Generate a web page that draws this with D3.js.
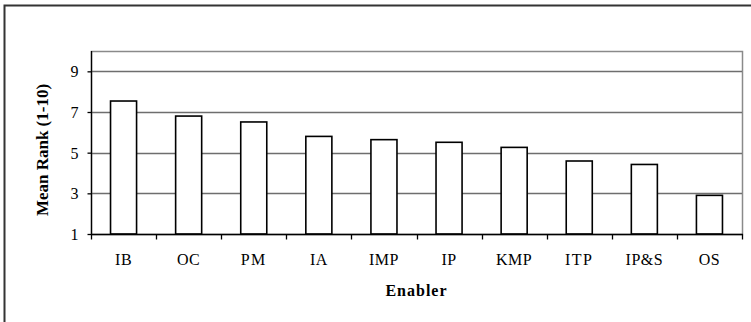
<!DOCTYPE html>
<html>
<head>
<meta charset="utf-8">
<script src="https://cdn.jsdelivr.net/npm/d3@7/dist/d3.min.js"></script>
<style>
  html, body { margin: 0; padding: 0; background: #fff; }
  svg { display: block; }
  text { font-family: "Liberation Serif", "Times New Roman", serif; fill: #000; }
</style>
</head>
<body>
<script>
const categories = ["IB", "OC", "PM", "IA", "IMP", "IP", "KMP", "ITP", "IP&S", "OS"];
const meanRank = [7.54, 6.80, 6.51, 5.80, 5.64, 5.51, 5.26, 4.59, 4.42, 2.90];
const yTicks = [1, 3, 5, 7, 9];
const yDomain = [1, 10];

const W = 751, H = 322;
const plot = { left: 91, top: 51, right: 742, bottom: 234 };

const svg = d3.select("body").append("svg").attr("width", W).attr("height", H);

// outer frame (extends beyond right/bottom edges)
svg.append("path")
  .attr("d", `M4.5,${H + 5} V5.5 H${W + 5}`)
  .attr("fill", "none").attr("stroke", "#333").attr("stroke-width", 2);

const x = d3.scaleBand().domain(categories).range([plot.left, plot.right]).paddingInner(0).paddingOuter(0);
const y = d3.scaleLinear().domain(yDomain).range([plot.bottom, plot.top]);

// plot area border (gray)
svg.append("rect")
  .attr("x", plot.left + 0.5).attr("y", plot.top + 0.5)
  .attr("width", plot.right - plot.left).attr("height", plot.bottom - plot.top)
  .attr("fill", "none").attr("stroke", "#8a8a8a").attr("stroke-width", 1.5);

// gridlines
svg.append("g").selectAll("line").data(yTicks.filter(t => t !== yDomain[0])).join("line")
  .attr("x1", plot.left).attr("x2", plot.right)
  .attr("y1", d => Math.round(y(d)) + 0.5).attr("y2", d => Math.round(y(d)) + 0.5)
  .attr("stroke", "#6e6e6e").attr("stroke-width", 1.3);

// bars
const bw = x.bandwidth() * 0.4;
svg.append("g").selectAll("rect").data(categories).join("rect")
  .attr("x", d => x(d) + (x.bandwidth() - bw) / 2)
  .attr("y", (d, i) => y(meanRank[i]))
  .attr("width", bw)
  .attr("height", (d, i) => y(yDomain[0]) - y(meanRank[i]))
  .attr("fill", "#fff").attr("stroke", "#000").attr("stroke-width", 1.6);

// y axis
const yAxis = d3.axisLeft(y).tickValues(yTicks).tickSize(4).tickPadding(9).tickFormat(d3.format("d"));
const gy = svg.append("g").attr("transform", `translate(${plot.left + 0.5},0)`).call(yAxis);
gy.select(".domain").attr("stroke", "#000").attr("stroke-width", 1.3).attr("d", `M0,${plot.top}V${plot.bottom}`);
gy.selectAll(".tick line").attr("stroke", "#000").attr("stroke-width", 1.3);
gy.selectAll(".tick text").style("font-family", "Liberation Serif, serif").style("font-size", "16px").attr("dy", "0.34em");

// x axis: ticks at band boundaries
const xAxisG = svg.append("g").attr("transform", `translate(0,${plot.bottom + 0.5})`);
xAxisG.append("line").attr("x1", plot.left).attr("x2", plot.right + 1)
  .attr("stroke", "#000").attr("stroke-width", 1.3);
const boundaries = categories.map(c => x(c)).concat([plot.right]);
xAxisG.selectAll("line.t").data(boundaries).join("line").attr("class", "t")
  .attr("x1", d => Math.round(d) + 0.5).attr("x2", d => Math.round(d) + 0.5)
  .attr("y1", 0).attr("y2", 5).attr("stroke", "#000").attr("stroke-width", 1.3);
xAxisG.selectAll("text").data(categories).join("text")
  .attr("x", d => x(d) + x.bandwidth() / 2)
  .attr("y", 30)
  .attr("text-anchor", "middle")
  .style("font-size", "16px")
  .style("letter-spacing", d => d === "ITP" || d === "PM" ? "1.5px" : "0.5px")
  .text(d => d);

// axis titles
svg.append("text")
  .attr("x", (plot.left + plot.right) / 2).attr("y", 296)
  .attr("text-anchor", "middle")
  .style("font-size", "16px").style("font-weight", "bold").style("letter-spacing", "1px")
  .text("Enabler");

svg.append("text")
  .attr("transform", "translate(48,150) rotate(-90)")
  .attr("text-anchor", "middle")
  .style("font-size", "17px").style("font-weight", "bold")
  .text("Mean Rank (1-10)");
</script>
</body>
</html>
